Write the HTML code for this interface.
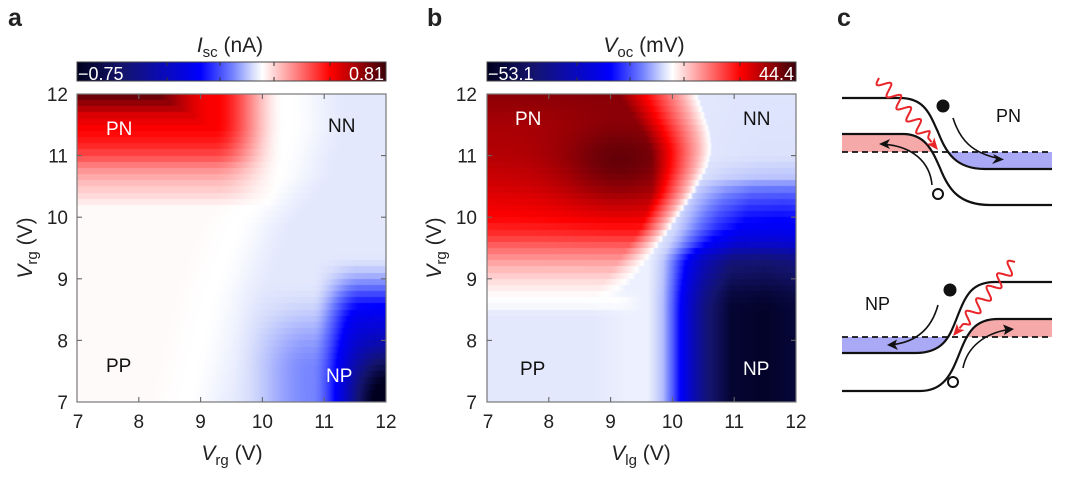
<!DOCTYPE html>
<html><head><meta charset="utf-8">
<style>
html,body{margin:0;padding:0;background:#fff;}
#wrap{position:relative;width:1080px;height:477px;overflow:hidden;background:#fff;}
canvas{position:absolute;}
svg{position:absolute;left:0;top:0;}
text{font-family:"Liberation Sans",Arial,sans-serif;fill:#222;}
</style></head>
<body>
<div id="wrap">
<canvas id="ca" width="309" height="308" style="left:77px;top:94px;width:309px;height:308px"></canvas>
<canvas id="cb" width="309" height="308" style="left:487px;top:94px;width:309px;height:308px"></canvas>
<svg width="1080" height="477" viewBox="0 0 1080 477" xmlns="http://www.w3.org/2000/svg">
<defs>
<linearGradient id="cmap" x1="0" y1="0" x2="1" y2="0">
<stop offset="0" stop-color="rgb(0,0,30)"/>
<stop offset="0.15" stop-color="rgb(20,20,110)"/>
<stop offset="0.4" stop-color="rgb(0,0,255)"/>
<stop offset="0.5" stop-color="rgb(110,125,255)"/>
<stop offset="0.57" stop-color="rgb(215,222,252)"/>
<stop offset="0.6" stop-color="rgb(255,255,255)"/>
<stop offset="0.82" stop-color="rgb(255,0,0)"/>
<stop offset="1" stop-color="rgb(60,0,10)"/>
</linearGradient>
<clipPath id="t_above_up"><path d="M842,98 L900,98 C925,98 930,115 938,132 C946,152 955,169 985,169 L1052,169 L1060,169 L1060,0 L835,0 L835,98 Z"/></clipPath>
<clipPath id="t_below_low"><path d="M842,134 L903,134 C925,134 932,150 940,168 C948,188 958,205 990,205 L1060,205 L1060,477 L835,477 L835,134 Z"/></clipPath>
<clipPath id="b_above_up"><path d="M835,353 L915,353 C945,353 950,335 958,315 C966,295 972,282 995,282 L1060,282 L1060,200 L835,200 Z"/></clipPath>
<clipPath id="b_below_low"><path d="M835,391 L920,391 C945,391 952,372 960,352 C968,332 975,319 998,319 L1060,319 L1060,477 L835,477 Z"/></clipPath>
</defs>

<!-- panel letters -->
<text x="8" y="26" font-size="25" font-weight="bold" fill="#111">a</text>
<text x="427" y="26" font-size="25" font-weight="bold" fill="#111">b</text>
<text x="837" y="26" font-size="25" font-weight="bold" fill="#111">c</text>

<!-- colorbar a -->
<text x="230" y="52" font-size="21" text-anchor="middle"><tspan font-style="italic">I</tspan><tspan font-size="15" dy="5">sc</tspan><tspan dy="-5"> (nA)</tspan></text>
<rect x="77" y="62" width="309" height="19" fill="url(#cmap)" stroke="#444" stroke-width="1"/>
<g stroke="#333" stroke-width="1">
<line x1="167" y1="62" x2="167" y2="66"/><line x1="167" y1="81" x2="167" y2="77"/>
<line x1="220" y1="62" x2="220" y2="66"/><line x1="220" y1="81" x2="220" y2="77"/>
<line x1="274" y1="62" x2="274" y2="66"/><line x1="274" y1="81" x2="274" y2="77"/>
<line x1="330" y1="62" x2="330" y2="66"/><line x1="330" y1="81" x2="330" y2="77"/>
</g>
<text x="78" y="80" font-size="18" style="fill:#fff">−0.75</text>
<text x="384" y="80" font-size="18" text-anchor="end" style="fill:#fff">0.81</text>

<!-- colorbar b -->
<text x="644" y="52" font-size="21" text-anchor="middle"><tspan font-style="italic">V</tspan><tspan font-size="15" dy="5">oc</tspan><tspan dy="-5"> (mV)</tspan></text>
<rect x="487" y="62" width="309" height="19" fill="url(#cmap)" stroke="#444" stroke-width="1"/>
<g stroke="#333" stroke-width="1">
<line x1="577" y1="62" x2="577" y2="66"/><line x1="577" y1="81" x2="577" y2="77"/>
<line x1="630" y1="62" x2="630" y2="66"/><line x1="630" y1="81" x2="630" y2="77"/>
<line x1="684" y1="62" x2="684" y2="66"/><line x1="684" y1="81" x2="684" y2="77"/>
<line x1="740" y1="62" x2="740" y2="66"/><line x1="740" y1="81" x2="740" y2="77"/>
</g>
<text x="488" y="80" font-size="18" style="fill:#fff">−53.1</text>
<text x="794" y="80" font-size="18" text-anchor="end" style="fill:#fff">44.4</text>

<!-- frames + ticks a -->
<rect x="77" y="94" width="309" height="308" fill="none" stroke="#777" stroke-width="1.2"/>
<g stroke="#666" stroke-width="1.1">
<line x1="138.8" y1="402" x2="138.8" y2="397"/><line x1="200.6" y1="402" x2="200.6" y2="397"/><line x1="262.4" y1="402" x2="262.4" y2="397"/><line x1="324.2" y1="402" x2="324.2" y2="397"/>
<line x1="138.8" y1="94" x2="138.8" y2="99"/><line x1="200.6" y1="94" x2="200.6" y2="99"/><line x1="262.4" y1="94" x2="262.4" y2="99"/><line x1="324.2" y1="94" x2="324.2" y2="99"/>
<line x1="77" y1="155.6" x2="82" y2="155.6"/><line x1="77" y1="217.2" x2="82" y2="217.2"/><line x1="77" y1="278.8" x2="82" y2="278.8"/><line x1="77" y1="340.4" x2="82" y2="340.4"/>
<line x1="386" y1="155.6" x2="381" y2="155.6"/><line x1="386" y1="217.2" x2="381" y2="217.2"/><line x1="386" y1="278.8" x2="381" y2="278.8"/><line x1="386" y1="340.4" x2="381" y2="340.4"/>
</g>
<g font-size="19" text-anchor="end">
<text x="68" y="101">12</text><text x="68" y="162.6">11</text><text x="68" y="224.2">10</text><text x="68" y="285.8">9</text><text x="68" y="347.4">8</text><text x="68" y="409">7</text>
</g>
<g font-size="19" text-anchor="middle">
<text x="78" y="428">7</text><text x="138.8" y="428">8</text><text x="200.6" y="428">9</text><text x="262.4" y="428">10</text><text x="324.2" y="428">11</text><text x="386" y="428">12</text>
</g>
<text x="232" y="460" font-size="21" text-anchor="middle"><tspan font-style="italic">V</tspan><tspan font-size="15" dy="5">rg</tspan><tspan dy="-5"> (V)</tspan></text>
<text transform="translate(32,248) rotate(-90)" font-size="21" text-anchor="middle"><tspan font-style="italic">V</tspan><tspan font-size="15" dy="5">rg</tspan><tspan dy="-5"> (V)</tspan></text>
<g font-size="19">
<text x="106" y="135" style="fill:#fff">PN</text>
<text x="328" y="132" style="fill:#111">NN</text>
<text x="106" y="372" style="fill:#111">PP</text>
<text x="326" y="382" style="fill:#fff">NP</text>
</g>

<!-- frames + ticks b -->
<rect x="487" y="94" width="309" height="308" fill="none" stroke="#777" stroke-width="1.2"/>
<g stroke="#666" stroke-width="1.1">
<line x1="548.8" y1="402" x2="548.8" y2="397"/><line x1="610.6" y1="402" x2="610.6" y2="397"/><line x1="672.4" y1="402" x2="672.4" y2="397"/><line x1="734.2" y1="402" x2="734.2" y2="397"/>
<line x1="548.8" y1="94" x2="548.8" y2="99"/><line x1="610.6" y1="94" x2="610.6" y2="99"/><line x1="672.4" y1="94" x2="672.4" y2="99"/><line x1="734.2" y1="94" x2="734.2" y2="99"/>
<line x1="487" y1="155.6" x2="492" y2="155.6"/><line x1="487" y1="217.2" x2="492" y2="217.2"/><line x1="487" y1="278.8" x2="492" y2="278.8"/><line x1="487" y1="340.4" x2="492" y2="340.4"/>
<line x1="796" y1="155.6" x2="791" y2="155.6"/><line x1="796" y1="217.2" x2="791" y2="217.2"/><line x1="796" y1="278.8" x2="791" y2="278.8"/><line x1="796" y1="340.4" x2="791" y2="340.4"/>
</g>
<g font-size="19" text-anchor="end">
<text x="477" y="101">12</text><text x="477" y="162.6">11</text><text x="477" y="224.2">10</text><text x="477" y="285.8">9</text><text x="477" y="347.4">8</text><text x="477" y="409">7</text>
</g>
<g font-size="19" text-anchor="middle">
<text x="488" y="428">7</text><text x="548.8" y="428">8</text><text x="610.6" y="428">9</text><text x="672.4" y="428">10</text><text x="734.2" y="428">11</text><text x="796" y="428">12</text>
</g>
<text x="641" y="460" font-size="21" text-anchor="middle"><tspan font-style="italic">V</tspan><tspan font-size="15" dy="5">lg</tspan><tspan dy="-5"> (V)</tspan></text>
<text transform="translate(441,248) rotate(-90)" font-size="21" text-anchor="middle"><tspan font-style="italic">V</tspan><tspan font-size="15" dy="5">rg</tspan><tspan dy="-5"> (V)</tspan></text>
<g font-size="19">
<text x="515" y="125" style="fill:#fff">PN</text>
<text x="743" y="125" style="fill:#111">NN</text>
<text x="520" y="375" style="fill:#111">PP</text>
<text x="743" y="375" style="fill:#fff">NP</text>
</g>

<!-- panel c top -->
<rect x="900" y="152" width="152" height="17" fill="#a9a9f5" clip-path="url(#t_above_up)"/>
<rect x="842" y="134" width="120" height="18" fill="#f5a9a9" clip-path="url(#t_below_low)"/>
<line x1="842" y1="152" x2="1052" y2="152" stroke="#111" stroke-width="1.8" stroke-dasharray="6,4"/>
<path d="M842,98 L900,98 C925,98 930,115 938,132 C946,152 955,169 985,169 L1052,169" fill="none" stroke="#111" stroke-width="2.2"/>
<path d="M842,134 L903,134 C925,134 932,150 940,168 C948,188 958,205 990,205 L1052,205" fill="none" stroke="#111" stroke-width="2.2"/>
<circle cx="943" cy="106" r="6.5" fill="#111"/>
<circle cx="938" cy="194" r="5" fill="#fff" stroke="#111" stroke-width="2"/>
<path d="M953,118 C960,140 972,153 999,158.5" fill="none" stroke="#111" stroke-width="1.6"/>
<path d="M1004,159.5 L993,154 L996,159 L992,164 Z" fill="#111"/>
<path d="M932,185 C930,162 912,146 884,144.3" fill="none" stroke="#111" stroke-width="1.6"/>
<path d="M879,144 L890,139 L887,144.2 L890,149 Z" fill="#111"/>
<text x="996" y="122" font-size="18" style="fill:#111">PN</text>
<path id="w1" d="" fill="none" stroke="#e8262a" stroke-width="2"/>
<path id="h1" d="" fill="#e8262a"/>

<!-- panel c bottom -->
<rect x="842" y="337" width="125" height="16" fill="#a9a9f5" clip-path="url(#b_above_up)"/>
<rect x="935" y="319" width="117" height="18" fill="#f5a9a9" clip-path="url(#b_below_low)"/>
<line x1="842" y1="337" x2="1052" y2="337" stroke="#111" stroke-width="1.8" stroke-dasharray="6,4"/>
<path d="M842,353 L915,353 C945,353 950,335 958,315 C966,295 972,282 995,282 L1052,282" fill="none" stroke="#111" stroke-width="2.2"/>
<path d="M842,391 L920,391 C945,391 952,372 960,352 C968,332 975,319 998,319 L1052,319" fill="none" stroke="#111" stroke-width="2.2"/>
<circle cx="950" cy="290" r="6.5" fill="#111"/>
<circle cx="953" cy="382" r="5" fill="#fff" stroke="#111" stroke-width="2"/>
<path d="M938,305 C932,327 918,342 892,344.6" fill="none" stroke="#111" stroke-width="1.6"/>
<path d="M887,345 L897,339.5 L895,344.8 L898,350 Z" fill="#111"/>
<path d="M963,368 C967,347 985,333 1009,329.5" fill="none" stroke="#111" stroke-width="1.6"/>
<path d="M1014,329 L1003,324.5 L1005.5,329.8 L1004,335 Z" fill="#111"/>
<text x="865" y="310" font-size="18" style="fill:#111">NP</text>
<path id="w2" d="" fill="none" stroke="#e8262a" stroke-width="2"/>
<path id="h2" d="" fill="#e8262a"/>
</svg>
</div>
<script>
(function(){
function clamp(x,a,b){return x<a?a:(x>b?b:x);}
function ss(a,b,x){var t=clamp((x-a)/(b-a),0,1);return t*t*(3-2*t);}
function interp(tab,x){
  if(x<=tab[0][0])return tab[0][1];
  for(var i=1;i<tab.length;i++){
    if(x<=tab[i][0]){var t=(x-tab[i-1][0])/(tab[i][0]-tab[i-1][0]);return tab[i-1][1]+t*(tab[i][1]-tab[i-1][1]);}
  }
  return tab[tab.length-1][1];
}
var stops=[[0,[0,0,30]],[0.15,[20,20,110]],[0.4,[0,0,255]],[0.5,[110,125,255]],[0.57,[215,222,252]],[0.6,[255,255,255]],[0.82,[255,0,0]],[1,[60,0,10]]];
function cmap(p){
  p=clamp(p,0,1);
  for(var i=1;i<stops.length;i++){
    if(p<=stops[i][0]){var a=stops[i-1],b=stops[i];var t=(p-a[0])/(b[0]-a[0]);
      return [a[1][0]+t*(b[1][0]-a[1][0]),a[1][1]+t*(b[1][1]-a[1][1]),a[1][2]+t*(b[1][2]-a[1][2])];}
  }
  return stops[stops.length-1][1];
}
/* ---- panel a ---- */
var RaT=[[10.15,0],[10.38,0.08],[10.6,0.15],[10.8,0.24],[11.0,0.38],[11.2,0.48],[11.46,0.55],[11.65,0.62],[11.8,0.75],[12,0.92]];
var ubA=[[7,8.75],[8.75,9.15],[9.85,9.55],[10.65,10.2],[11.5,10.45],[12,10.4]];
function fa(u,v){
  var Ra=interp(RaT,v);
  var cap=0.95-0.4*ss(8.0,9.2,u);
  var fade=1-ss(9.2,10.35,u);
  var P=Math.min(Ra,cap)*fade;
  var sd=u-interp(ubA,v);
  var base=sd>0?-0.035*ss(0,1.0,sd):0.01*ss(0,0.6,-sd);
  var plateau=0.3*ss(10.8,11.6,u)*(1-ss(8.3,9.4,v));
  var corner=0.65*Math.exp(-((u-12)*(u-12)/0.25+(v-7)*(v-7)/0.6));
  var broad=0.12*ss(9.5,10.8,u)*(1-ss(7.5,9,v));
  return P+base-(plateau+corner+broad);
}
/* ---- panel b ---- */
var RvT=[[8.65,0],[8.8,0.05],[9.0,0.1],[9.2,0.17],[9.46,0.3],[9.73,0.45],[10.0,0.55],[10.5,0.65],[11,0.72],[11.5,0.75],[12,0.82]];
var ubB=[[8.7,9.15],[9.3,9.6],[9.85,10.0],[10.4,10.37],[10.8,10.58],[11.1,10.65],[11.4,10.62],[12,10.42]];
var wB=[[9,0.45],[9.85,0.5],[10.4,0.7],[10.8,0.9],[12,1.3]];
var offB=[[9.3,0],[9.85,0.2],[10.4,0.35],[11,0.5]];
var BuT=[[9.6,0],[9.85,0.06],[10.0,0.17],[10.13,0.3],[10.3,0.47],[10.5,0.65],[10.95,0.9],[11.5,0.93],[12,0.88]];
var BvT=[[7,1],[8.5,1],[8.75,0.95],[9.3,0.75],[9.57,0.48],[9.85,0.35],[10.1,0.28],[10.4,0.18],[10.65,0.05],[11,0.01],[12,0.005]];
function fb(u,v){
  var Rv=interp(RvT,v);
  var core=0.2*Math.exp(-((u-9.15)*(u-9.15)/0.9+(v-10.8)*(v-10.8)/0.5));
  var Vmax=Rv+core*Math.min(1,Rv/0.3);
  var ub=interp(ubB,v), w=interp(wB,v);
  var t=clamp((ub-u)/w,0,1);
  var P=Vmax*t;
  var off=interp(offB,v);
  var main=interp(BuT,u-off)*interp(BvT,v);
  var bg=0.035*(1-0.35*ss(8.6,9.4,u)*(1-ss(9.6,10.0,u)));
  var band=Math.exp(-Math.pow((v-8.62)/0.12,2))*(1-ss(9.1,9.6,u));
  var F=(main+bg)*(1-band);
  return P-F*(1-Math.min(1,P*6));
}
function draw(id,fn){
  var c=document.getElementById(id);if(!c||!c.getContext)return;
  var ctx=c.getContext('2d');var W=c.width,H=c.height;
  var img=ctx.createImageData(W,H);var d=img.data;
  for(var j=0;j<H;j++){
    var v=12-5*(j+0.5)/H;
    var vq=7+(Math.floor((v-7)/0.1)+0.5)*0.1;
    for(var i=0;i<W;i++){
      var u=7+5*(i+0.5)/W;
      var s=fn(u,vq);
      var p=s>=0?0.6+0.4*Math.min(s,1):0.6+0.6*Math.max(s,-1);
      var col=cmap(p);var k=(j*W+i)*4;
      d[k]=col[0];d[k+1]=col[1];d[k+2]=col[2];d[k+3]=255;
    }
  }
  ctx.putImageData(img,0,0);
}
draw('ca',fa);draw('cb',fb);
function wave(pid,hid,x0,y0,x1,y1,periods,amp,headLen){
  var dx=x1-x0,dy=y1-y0,L=Math.hypot(dx,dy);var ux=dx/L,uy=dy/L,nx=-uy,ny=ux;
  var Lw=L-headLen-3;var pts=[];
  for(var k=0;k<=240;k++){
    var t=k/240*Lw;
    var a=amp*Math.sin(2*Math.PI*periods*t/Lw)*Math.min(1,(Lw-t)/5);
    pts.push((x0+ux*t+nx*a).toFixed(2)+','+(y0+uy*t+ny*a).toFixed(2));
  }
  var bx=x1-ux*headLen,by=y1-uy*headLen;
  pts.push((bx+ux*2).toFixed(2)+','+(by+uy*2).toFixed(2));
  document.getElementById(pid).setAttribute('d','M'+pts.join(' L'));
  var hw=5;
  document.getElementById(hid).setAttribute('d','M'+x1+','+y1+' L'+(bx+nx*hw)+','+(by+ny*hw)+' L'+(bx+ux*3)+','+(by+uy*3)+' L'+(bx-nx*hw)+','+(by-ny*hw)+' Z');
}
wave('w1','h1',879,78,938,150,5,6,12);
wave('w2','h2',1015,262,953,336,5,6,12);
})();
</script>
</body></html>
